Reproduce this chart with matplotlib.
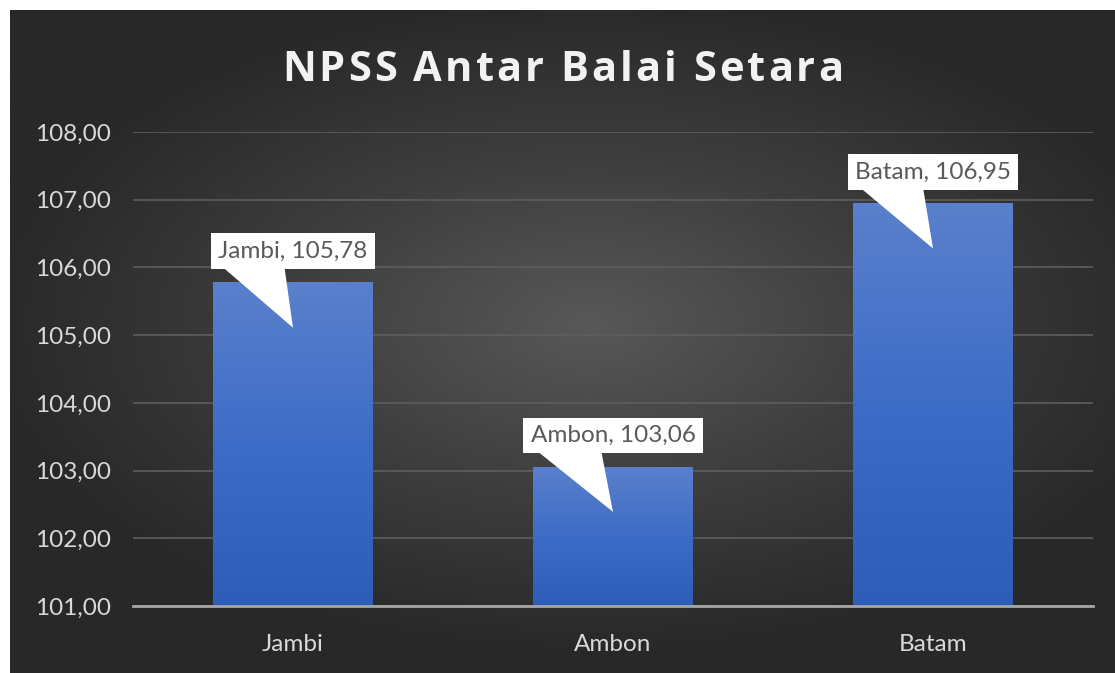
import numpy as np
import matplotlib
matplotlib.use("Agg")
import matplotlib.pyplot as plt
from matplotlib.colors import LinearSegmentedColormap

# Data
categories = ["Jambi", "Ambon", "Batam"]
values = [105.78, 103.06, 106.95]
y_ticks = [101, 102, 103, 104, 105, 106, 107, 108]
title = "NPSS Antar Balai Setara"

FONT = ["Lato", "DejaVu Sans"]
plt.rcParams["font.family"] = FONT

fig = plt.figure(figsize=(11.15, 6.73), dpi=100, facecolor="white")

# dark radial background
bg = fig.add_axes([10 / 1115, 0, 1105 / 1115, 663 / 673])
bg.set_axis_off()
gx, gy = np.meshgrid(np.linspace(-1, 1, 400), np.linspace(-1, 1, 250))
r = np.sqrt(((gx - 0.05) / 1.1) ** 2 + ((gy + 0.05) / 1.0) ** 2)
r = np.clip(r, 0, 1)
bg_cmap = LinearSegmentedColormap.from_list("bg", ["#585858", "#3e3e3e", "#282828"])
bg.imshow(r, cmap=bg_cmap, aspect="auto", extent=(0, 1, 0, 1), vmin=0, vmax=1)

ax = fig.add_axes([133 / 1115, 67 / 673, 960 / 1115, 474 / 673])
ax.patch.set_alpha(0)
x = np.arange(len(categories))
bars = ax.bar(x, [v - y_ticks[0] for v in values], bottom=y_ticks[0], width=0.5,
              color="#4472c4", zorder=2)
ax.set_yticks(y_ticks)
ax.set_yticklabels([f"{t:.2f}".replace(".", ",") for t in y_ticks])
ax.set_xticks(x)
ax.set_xticklabels(categories)
ax.tick_params(length=0, colors="#d9d9d9", labelsize=17.5)
ax.tick_params(axis="y", pad=16)
ax.tick_params(axis="x", pad=20)
for s in ["top", "right", "left"]:
    ax.spines[s].set_visible(False)
ax.spines["bottom"].set_color("#a6a6a6")
ax.spines["bottom"].set_linewidth(2)
ax.spines["bottom"].set_zorder(3)
ax.grid(axis="y", color="#5e5e5e", linewidth=1.2, zorder=0)
ax.set_axisbelow(True)

# gradient fill inside each bar
bar_cmap = LinearSegmentedColormap.from_list("bar", ["#2e5db8", "#3d6cc6", "#5a80cc"])
grad = np.linspace(0, 1, 256).reshape(-1, 1)
for b in bars:
    x0, y0, w, h = b.get_x(), b.get_y(), b.get_width(), b.get_height()
    im = ax.imshow(grad, cmap=bar_cmap, aspect="auto", origin="lower",
                   extent=(x0, x0 + w, y0, y0 + h), zorder=2.5)
    im.set_clip_path(b)
ax.set_xlim(-0.5, len(categories) - 0.5)
ax.set_ylim(y_ticks[0], y_ticks[-1])

# callout labels
for i, (cat, v) in enumerate(zip(categories, values)):
    ax.annotate(f"{cat}, {v:.2f}".replace(".", ","), xy=(i, v - 0.67), xytext=(i, v + 0.46),
                ha="center", va="center", fontsize=17.5, color="#595959", zorder=5,
                bbox=dict(boxstyle="square,pad=0.3", fc="white", ec="none"),
                arrowprops=dict(arrowstyle="wedge,tail_width=2.7", fc="white", ec="none",
                                relpos=(0.22, 0.5), patchA=None, shrinkA=0, shrinkB=0))

# title with a bit of letter spacing
renderer = fig.canvas.get_renderer()
tkw = dict(fontsize=30, fontweight="bold", color="#f2f2f2",
           family=["Open Sans", "DejaVu Sans"], va="baseline", ha="left")
tracking = 3.0
widths = []
for ch in title:
    t = fig.text(0, 0, ch if ch != " " else "a a", **tkw)
    wd = t.get_window_extent(renderer).width
    if ch == " ":
        t2 = fig.text(0, 0, "aa", **tkw)
        wd = wd - t2.get_window_extent(renderer).width
        t2.remove()
    widths.append(wd + tracking)
    t.remove()
total = sum(widths) - tracking
xpos = (fig.bbox.width - total) / 2 + 5
ybase = 673 - 81
for ch, wd in zip(title, widths):
    if ch != " ":
        fig.text(xpos / fig.bbox.width, ybase / fig.bbox.height, ch, **tkw)
    xpos += wd

fig.savefig("out.png", dpi=100, facecolor="white")
